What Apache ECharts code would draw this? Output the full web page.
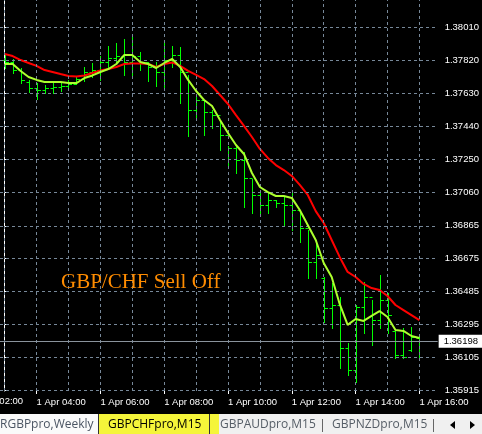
<!DOCTYPE html>
<html><head><meta charset="utf-8">
<script src="https://cdn.jsdelivr.net/npm/echarts@6/dist/echarts.min.js"></script>
<style>html,body{margin:0;padding:0;background:#000;}#c{width:482px;height:434px;}</style>
</head><body><div id="c"></div>
<script>
// 15-minute bar times, 1 Apr
const times = ['03:00','03:15','03:30','03:45','04:00','04:15','04:30','04:45','05:00','05:15','05:30','05:45',
'06:00','06:15','06:30','06:45','07:00','07:15','07:30','07:45','08:00','08:15','08:30','08:45',
'09:00','09:15','09:30','09:45','10:00','10:15','10:30','10:45','11:00','11:15','11:30','11:45',
'12:00','12:15','12:30','12:45','13:00','13:15','13:30','13:45','14:00','14:15','14:30','14:45',
'15:00','15:15','15:30','15:45','16:00'];

const opens = [1.37823,1.37812,1.37765,1.37696,1.37661,1.37650,1.37661,1.37667,1.37673,1.37685,
1.37713,1.37754,1.37765,1.37812,1.37835,1.37846,1.37812,1.37846,1.37812,1.37783,
1.37754,1.37823,1.37852,1.37754,1.37534,1.37592,1.37523,1.37505,1.37390,1.37315,
1.37245,1.37141,1.37043,1.36985,1.37014,1.36997,1.36985,1.36956,1.36852,1.36656,
1.36563,1.36390,1.36407,1.36159,1.36031,1.36396,1.36453,1.36320,1.36436,1.36257,
1.36118,1.36147,1.36216];
const highs = [1.37852,1.37829,1.37777,1.37708,1.37690,1.37679,1.37690,1.37690,1.37708,1.37725,
1.37783,1.37806,1.37846,1.37904,1.37921,1.37945,1.37962,1.37869,1.37812,1.37812,
1.37921,1.37904,1.37898,1.37737,1.37615,1.37592,1.37534,1.37476,1.37326,1.37320,
1.37291,1.37135,1.37055,1.37055,1.37014,1.37037,1.37066,1.36939,1.36841,1.36783,
1.36569,1.36534,1.36453,1.36187,1.36407,1.36540,1.36436,1.36581,1.36477,1.36263,
1.36274,1.36280,1.36222];
const lows = [1.37777,1.37748,1.37690,1.37638,1.37598,1.37633,1.37633,1.37644,1.37650,1.37685,
1.37702,1.37725,1.37708,1.37783,1.37806,1.37737,1.37737,1.37765,1.37702,1.37673,
1.37667,1.37783,1.37575,1.37384,1.37476,1.37390,1.37430,1.37303,1.37216,1.37170,
1.36974,1.36939,1.36927,1.36939,1.36974,1.36870,1.36841,1.36771,1.36563,1.36563,
1.36309,1.36274,1.36043,1.36003,1.35962,1.36245,1.36176,1.36274,1.36245,1.36101,
1.36101,1.36141,1.36107];
const closes = [1.37812,1.37765,1.37708,1.37661,1.37650,1.37661,1.37667,1.37673,1.37685,1.37713,
1.37754,1.37765,1.37812,1.37835,1.37846,1.37812,1.37846,1.37812,1.37783,1.37754,
1.37823,1.37852,1.37754,1.37534,1.37592,1.37523,1.37505,1.37390,1.37315,1.37245,
1.37141,1.37043,1.36985,1.37014,1.36997,1.36985,1.36956,1.36852,1.36656,1.36696,
1.36390,1.36407,1.36159,1.36031,1.36396,1.36453,1.36320,1.36436,1.36349,1.36118,
1.36107,1.36222,1.36198];
const fastMA = [1.37800,1.37800,1.37760,1.37725,1.37708,1.37696,1.37696,1.37696,1.37690,1.37690,
1.37719,1.37734,1.37754,1.37771,1.37800,1.37852,1.37852,1.37812,1.37800,1.37777,
1.37806,1.37829,1.37783,1.37708,1.37644,1.37592,1.37557,1.37476,1.37401,1.37332,
1.37280,1.37170,1.37089,1.37060,1.37037,1.37037,1.37026,1.36956,1.36870,1.36783,
1.36650,1.36569,1.36413,1.36292,1.36326,1.36315,1.36344,1.36372,1.36338,1.36263,
1.36257,1.36228,1.36216];
const slowMA = [1.37858,1.37846,1.37823,1.37806,1.37789,1.37765,1.37754,1.37742,1.37731,1.37728,
1.37734,1.37748,1.37763,1.37771,1.37783,1.37800,1.37803,1.37803,1.37800,1.37783,
1.37800,1.37809,1.37789,1.37760,1.37737,1.37713,1.37673,1.37621,1.37569,1.37505,
1.37442,1.37378,1.37309,1.37257,1.37216,1.37187,1.37153,1.37101,1.37043,1.36950,
1.36881,1.36783,1.36685,1.36598,1.36569,1.36529,1.36505,1.36494,1.36459,1.36407,
1.36378,1.36349,1.36320];

const priceTicks = [1.38010,1.37820,1.37630,1.37440,1.37250,1.37060,1.36865,1.36675,1.36485,1.36295,1.36105,1.35915];
const hourIdx = [0,4,8,12,16,20,24,28,32,36,40,44,48,52];
const labelIdx = [4,12,20,28,36,44,52];
const tabs = ['RGBPpro,Weekly','GBPCHFpro,M15','GBPAUDpro,M15','GBPNZDpro,M15'];
const title = 'GBP/CHF Sell Off';

const BAR = '#00ff00', FAST = '#adff2f', SLOW = '#ff0000', GRID = '#778899';
const axisFont = {color:'#fff', fontSize:9.5, fontFamily:'Liberation Sans'};

const ohlc = times.map((t,i)=>[i, opens[i], highs[i], lows[i], closes[i]]);

const chart = echarts.init(document.getElementById('c'), null, {renderer:'canvas'});

function renderBar(params, api){
  const i = api.value(0);
  const o = api.coord([i, api.value(1)]);
  const h = api.coord([i, api.value(2)]);
  const l = api.coord([i, api.value(3)]);
  const c = api.coord([i, api.value(4)]);
  const x = Math.round(o[0]) + 0.5;
  const yo = Math.round(o[1]) + 0.5, yc = Math.round(c[1]) + 0.5;
  const st = {stroke: BAR, lineWidth: 1};
  return {type:'group', children:[
    {type:'line', shape:{x1:x, y1:Math.round(h[1]), x2:x, y2:Math.round(l[1])+1}, style:st},
    {type:'line', shape:{x1:x-3, y1:yo, x2:x, y2:yo}, style:st},
    {type:'line', shape:{x1:x, y1:yc, x2:x+3.5, y2:yc}, style:st}
  ]};
}

const lastClose = closes[closes.length-1];

chart.setOption({
  animation:false,
  backgroundColor:'#000',
  grid:{left:0, top:0, right:43, bottom:43, containLabel:false},
  xAxis:{type:'value', min:-0.5875, max:54.2875,
    axisLine:{show:false},
    axisTick:{show:true, customValues:labelIdx, length:3, lineStyle:{color:'#fff'}},
    axisLabel:Object.assign({show:true, customValues:labelIdx, align:'left', margin:6,
      formatter:v=>'1 Apr '+times[v], hideOverlap:false, showMinLabel:true, showMaxLabel:true}, axisFont),
    splitLine:{show:false}},
  yAxis:{type:'value', position:'right', min:1.35910, max:1.38170, scale:true,
    axisLine:{show:true, lineStyle:{color:'#fff', width:1}},
    axisTick:{show:true, customValues:priceTicks, length:4, lineStyle:{color:'#fff'}},
    axisLabel:Object.assign({show:true, customValues:priceTicks, margin:7, formatter:v=>v.toFixed(5)}, axisFont),
    splitLine:{show:false}},
  series:[
    {type:'line', data:[], z:1, silent:true,
      markLine:{silent:true, precision:5, symbol:['none','none'], label:{show:false},
        lineStyle:{color:GRID, type:[3,3], width:1},
        data:[...priceTicks.map(v=>({yAxis:v})), ...hourIdx.map(v=>({xAxis:v}))]}},
    {type:'line', data:[], z:2, silent:true,
      markLine:{silent:true, precision:5, symbol:['none','none'],
        lineStyle:{color:'#8a939c', type:'solid', width:1},
        label:{show:true, position:'end', distance:1, formatter:p=>Number(p.value).toFixed(5),
          backgroundColor:'#fff', color:'#000', fontSize:9.5, fontFamily:'Liberation Sans', padding:[2,4,1,5]},
        data:[{yAxis:lastClose}]}},
    {type:'custom', z:3, data:ohlc, renderItem:renderBar, encode:{x:0, y:[1,2,3,4]}, clip:true},
    {type:'line', z:4, data:slowMA.map((v,i)=>[i,v]), showSymbol:false, lineStyle:{color:SLOW, width:2}, itemStyle:{color:SLOW}},
    {type:'line', z:5, data:fastMA.map((v,i)=>[i,v]), showSymbol:false, lineStyle:{color:FAST, width:2}, itemStyle:{color:FAST}}
  ]
});

const x02 = chart.convertToPixel({xAxisIndex:0}, -4);
const tabFont = {fontSize:12, fontFamily:'Open Sans', verticalAlign:'middle'};
chart.setOption({graphic:[
  {type:'text', x:Math.round(x02)+1, y:396, style:{text:'1 Apr 02:00', fill:'#fff', verticalAlign:'top', fontSize:9.5, fontFamily:'Liberation Sans'}},
  {type:'text', x:61, y:282, z:10, style:{text:title, fill:'#ff8c00', fontSize:21, fontFamily:'Liberation Serif', verticalAlign:'middle'}},
  {type:'rect', shape:{x:0, y:414, width:482, height:20}, style:{fill:'#f0f0f0'}},
  {type:'rect', shape:{x:0, y:414, width:98, height:20}, style:{fill:'#fafafa'}},
  {type:'line', shape:{x1:98.5, y1:414, x2:98.5, y2:434}, style:{stroke:'#333', lineWidth:1}},
  {type:'rect', shape:{x:99, y:414, width:120, height:20}, style:{fill:'#f5f53a'}},
  {type:'line', shape:{x1:209.5, y1:414, x2:209.5, y2:434}, style:{stroke:'#333', lineWidth:1}},
  {type:'line', shape:{x1:322.5, y1:419, x2:322.5, y2:432}, style:{stroke:'#666', lineWidth:1}},
  {type:'line', shape:{x1:433.5, y1:419, x2:433.5, y2:432}, style:{stroke:'#666', lineWidth:1}},
  {type:'text', x:0, y:425, style:Object.assign({text:tabs[0], fill:'#4b5563'}, tabFont)},
  {type:'text', x:108, y:425, style:Object.assign({text:tabs[1], fill:'#000'}, tabFont)},
  {type:'text', x:220, y:425, style:Object.assign({text:tabs[2], fill:'#555d66'}, tabFont)},
  {type:'text', x:332, y:425, style:Object.assign({text:tabs[3], fill:'#555d66'}, tabFont)},
  {type:'polygon', shape:{points:[[450,425],[455,421],[455,429]]}, style:{fill:'#000'}},
  {type:'polygon', shape:{points:[[475,425],[470,421],[470,429]]}, style:{fill:'#000'}}
]});
</script></body></html>
